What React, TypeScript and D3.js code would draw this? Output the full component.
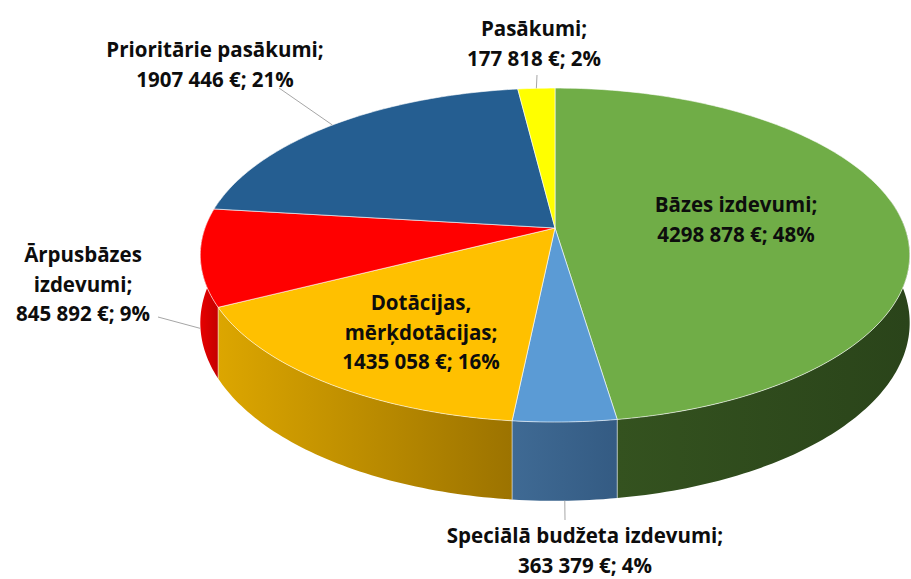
import React from "react";
import * as d3 from "d3";

// ---- data ----
const categories = [
  "Bāzes izdevumi;",
  "Speciālā budžeta izdevumi;",
  "Dotācijas,\nmērķdotācijas;",
  "Ārpusbāzes\nizdevumi;",
  "Prioritārie pasākumi;",
  "Pasākumi;",
];
const values = [4298878, 363379, 1435058, 845892, 1907446, 177818];
const valueLabels = ["4298 878 €", "363 379 €", "1435 058 €", "845 892 €", "1907 446 €", "177 818 €"];

// ---- styles / layout ----
const topColors = ["#70AD47", "#5B9BD5", "#FFC000", "#FF0000", "#255E91", "#FFFF00"];
const wallColors = [
  ["#34521F", "#2A441A"],
  ["#3F6A94", "#345B83"],
  ["#DCA600", "#9C7300"],
  ["#E60000", "#C40000"],
  ["#1E4A72", "#1E4A72"],
  ["#CCCC00", "#CCCC00"],
];
// first-line baseline anchor of each label (layout)
const labelPos: [number, number][] = [
  [736, 212],
  [585, 543],
  [421, 310],
  [83, 262],
  [215, 57],
  [534, 36],
];
// start of leader line near label (null = no leader)
const leaderStart: ([number, number] | null)[] = [null, [565, 520], null, [158, 317], [279, 88], [537, 75]];
const leaderZ = [0, 1, 0, 1.05, 0, 0];

const W = 911,
  H = 579;
const cx = 555,
  cy = 228,
  A = 350,
  B = 162.6,
  K = 0.162,
  T = 66;

function proj(theta: number, r: number, z: number): [number, number] {
  const X = r * Math.sin(theta);
  const u = -r * Math.cos(theta);
  const s = 1 / (1 - K * u);
  return [cx + A * X * s, cy + B * u * s + z * T * s];
}

function arcPts(a0: number, a1: number, z: number): [number, number][] {
  const n = Math.max(2, Math.ceil(((a1 - a0) * 180) / Math.PI));
  const pts: [number, number][] = [];
  for (let i = 0; i <= n; i++) pts.push(proj(a0 + ((a1 - a0) * i) / n, 1, z));
  return pts;
}

const toPath = (pts: [number, number][]) => "M" + pts.map((p) => p[0].toFixed(2) + "," + p[1].toFixed(2)).join("L") + "Z";

export default function App() {
  const total = d3.sum(values);
  const arcs = d3
    .pie<number>()
    .sort(null)
    .startAngle(0)
    .endAngle(2 * Math.PI)(values);

  const wMin = (80 * Math.PI) / 180,
    wMax = (280 * Math.PI) / 180;

  const walls = arcs
    .map((a, i) => {
      const a0 = Math.max(a.startAngle, wMin),
        a1 = Math.min(a.endAngle, wMax);
      if (a1 <= a0) return null;
      const topP = arcPts(a0, a1, 0);
      const botP = arcPts(a0, a1, 1).reverse();
      const all = topP.concat(botP);
      const xs = all.map((p) => p[0]);
      return { i, d: toPath(all), x0: d3.min(xs)!, x1: d3.max(xs)!, a0, a1 };
    })
    .filter((w) => w !== null) as any[];

  const edges = arcs
    .map((a) => a.startAngle)
    .filter((ang) => ang > wMin && ang < wMax);

  const tops = arcs.map((a, i) => {
    const pts: [number, number][] = [[cx, cy] as [number, number]].concat(arcPts(a.startAngle, a.endAngle, 0));
    return { i, d: toPath(pts) };
  });

  const fontFamily = "'Open Sans', sans-serif";

  return (
    <svg width={W} height={H} style={{ position: "absolute", left: 0, top: 0, background: "#fff" }}>
      <defs>
        {walls.map((w) => (
          <linearGradient key={w.i} id={"wg" + w.i} gradientUnits="userSpaceOnUse" x1={w.x0} x2={w.x1} y1={0} y2={0}>
            <stop offset="0%" stopColor={wallColors[w.i][0]} />
            <stop offset="100%" stopColor={wallColors[w.i][1]} />
          </linearGradient>
        ))}
      </defs>
      <g>
        {walls.map((w) => (
          <path key={w.i} d={w.d} fill={`url(#wg${w.i})`} />
        ))}
        {edges.map((ang, j) => {
          const p0 = proj(ang, 1, 0),
            p1 = proj(ang, 1, 1);
          return <line key={j} x1={p0[0]} y1={p0[1]} x2={p1[0]} y2={p1[1]} stroke="rgba(255,255,255,0.55)" strokeWidth={1} />;
        })}
      </g>
      <g>
        {tops.map((t) => (
          <path key={t.i} d={t.d} fill={topColors[t.i]} stroke="rgba(255,255,255,0.6)" strokeWidth={1} strokeLinejoin="round" />
        ))}
      </g>
      <g>
        {arcs.map((a, i) => {
          const s = leaderStart[i];
          if (!s) return null;
          const mid = (a.startAngle + a.endAngle) / 2;
          const e = proj(mid, 1, leaderZ[i]);
          return <line key={i} x1={s[0]} y1={s[1]} x2={e[0]} y2={e[1]} stroke="#A6A6A6" strokeWidth={1} />;
        })}
      </g>
      <g fontFamily={fontFamily} fontWeight="bold" fontSize={20.5} fill="#0D0D0D" textAnchor="middle">
        {arcs.map((a, i) => {
          const pct = Math.round((values[i] / total) * 100);
          const lines = categories[i].split("\n").concat([`${valueLabels[i]}; ${pct}%`]);
          const [lx, ly] = labelPos[i];
          return (
            <text key={i} x={lx} y={ly}>
              {lines.map((ln, j) => (
                <tspan key={j} x={lx} y={ly + j * 29.5}>
                  {ln}
                </tspan>
              ))}
            </text>
          );
        })}
      </g>
    </svg>
  );
}
